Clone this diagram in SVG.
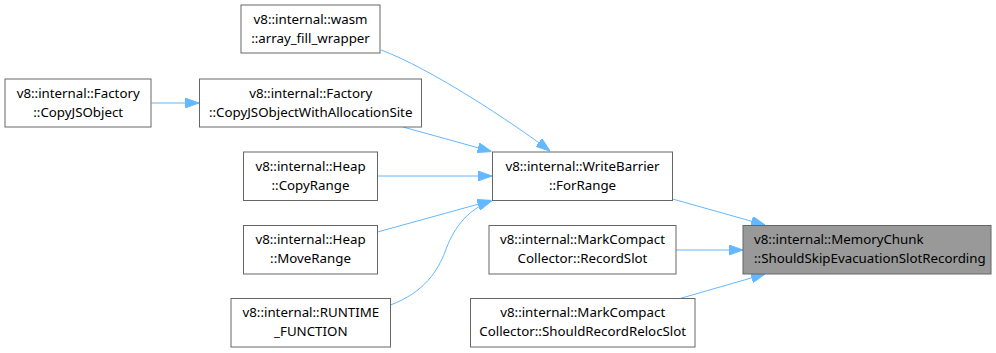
<svg xmlns="http://www.w3.org/2000/svg" width="996" height="353" viewBox="0 0 996 353">
  <style>
    .node rect { fill: #ffffff; stroke: #666666; stroke-width: 1; }
    .node.focus rect { fill: #999999; }
    .node text { font-family: "Noto Sans", "Open Sans", sans-serif; font-size: 13.3px; fill: #000000; text-anchor: middle; }
    .node.focus text { text-anchor: start; }
    .edges path { fill: none; stroke: #63b8ff; stroke-width: 1; marker-end: url(#arrow); }
  </style>
  <defs>
    <marker id="arrow" viewBox="0 0 14 10" markerUnits="userSpaceOnUse" markerWidth="14" markerHeight="10" refX="14" refY="5" orient="auto">
      <path d="M0,0 L14,5 L0,10 z" fill="#63b8ff" stroke="#63b8ff" stroke-width="1"/>
    </marker>
  </defs>
  <rect width="996" height="353" fill="#ffffff"/>

  <g class="edges">
    <path d="M151.5,103 L199,103"/>
    <path d="M381,50 C430,68 513,123 550,151"/>
    <path d="M403,127 L491.5,151.5"/>
    <path d="M377.5,176 L492,176"/>
    <path d="M377.5,232 L491.5,200.5"/>
    <path d="M390.5,305 C425,292 438,270 445,252 C452,232 465,210 491.5,201"/>
    <path d="M672.5,199 L765,225"/>
    <path d="M676,250 L743,250"/>
    <path d="M680,298.5 L765,274"/>
  </g>

  <g id="node-wasm-array-fill-wrapper" class="node">
    <rect x="241" y="5" width="139" height="48"/>
    <text x="310.5" y="23.5">v8::internal::wasm</text>
    <text x="310.5" y="42.5">::array_fill_wrapper</text>
  </g>
  <g id="node-factory-copyjsobject" class="node">
    <rect x="5" y="79" width="146" height="48"/>
    <text x="78.2" y="97.5">v8::internal::Factory</text>
    <text x="78.2" y="116.5">::CopyJSObject</text>
  </g>
  <g id="node-factory-copyjsobjectwithallocationsite" class="node">
    <rect x="199.5" y="79" width="222" height="48"/>
    <text x="310.7" y="97.5">v8::internal::Factory</text>
    <text x="310.7" y="116.5">::CopyJSObjectWithAllocationSite</text>
  </g>
  <g id="node-heap-copyrange" class="node">
    <rect x="243.5" y="152" width="134" height="48.5"/>
    <text x="310.5" y="170.5">v8::internal::Heap</text>
    <text x="310.5" y="189.5">::CopyRange</text>
  </g>
  <g id="node-heap-moverange" class="node">
    <rect x="243.5" y="225.5" width="134" height="48.5"/>
    <text x="310.5" y="244">v8::internal::Heap</text>
    <text x="310.5" y="263">::MoveRange</text>
  </g>
  <g id="node-runtime-function" class="node">
    <rect x="231" y="298.5" width="159.5" height="48.5"/>
    <text x="310.8" y="317">v8::internal::RUNTIME</text>
    <text x="310.8" y="336">_FUNCTION</text>
  </g>
  <g id="node-writebarrier-forrange" class="node">
    <rect x="492.5" y="152" width="180" height="48.5"/>
    <text x="582.5" y="170.5">v8::internal::WriteBarrier</text>
    <text x="582.5" y="189.5">::ForRange</text>
  </g>
  <g id="node-markcompactcollector-recordslot" class="node">
    <rect x="489" y="225.5" width="187" height="48.5"/>
    <text x="582.5" y="244">v8::internal::MarkCompact</text>
    <text x="582.5" y="263">Collector::RecordSlot</text>
  </g>
  <g id="node-markcompactcollector-shouldrecordrelocslot" class="node">
    <rect x="470.5" y="298.5" width="224.5" height="48.5"/>
    <text x="582.7" y="317">v8::internal::MarkCompact</text>
    <text x="582.7" y="336">Collector::ShouldRecordRelocSlot</text>
  </g>
  <g id="node-memorychunk-shouldskipevacuationslotrecording" class="node focus">
    <rect x="743" y="225.5" width="248" height="48.5"/>
    <text x="754" y="244">v8::internal::MemoryChunk</text>
    <text x="754" y="263">::ShouldSkipEvacuationSlotRecording</text>
  </g>
</svg>
